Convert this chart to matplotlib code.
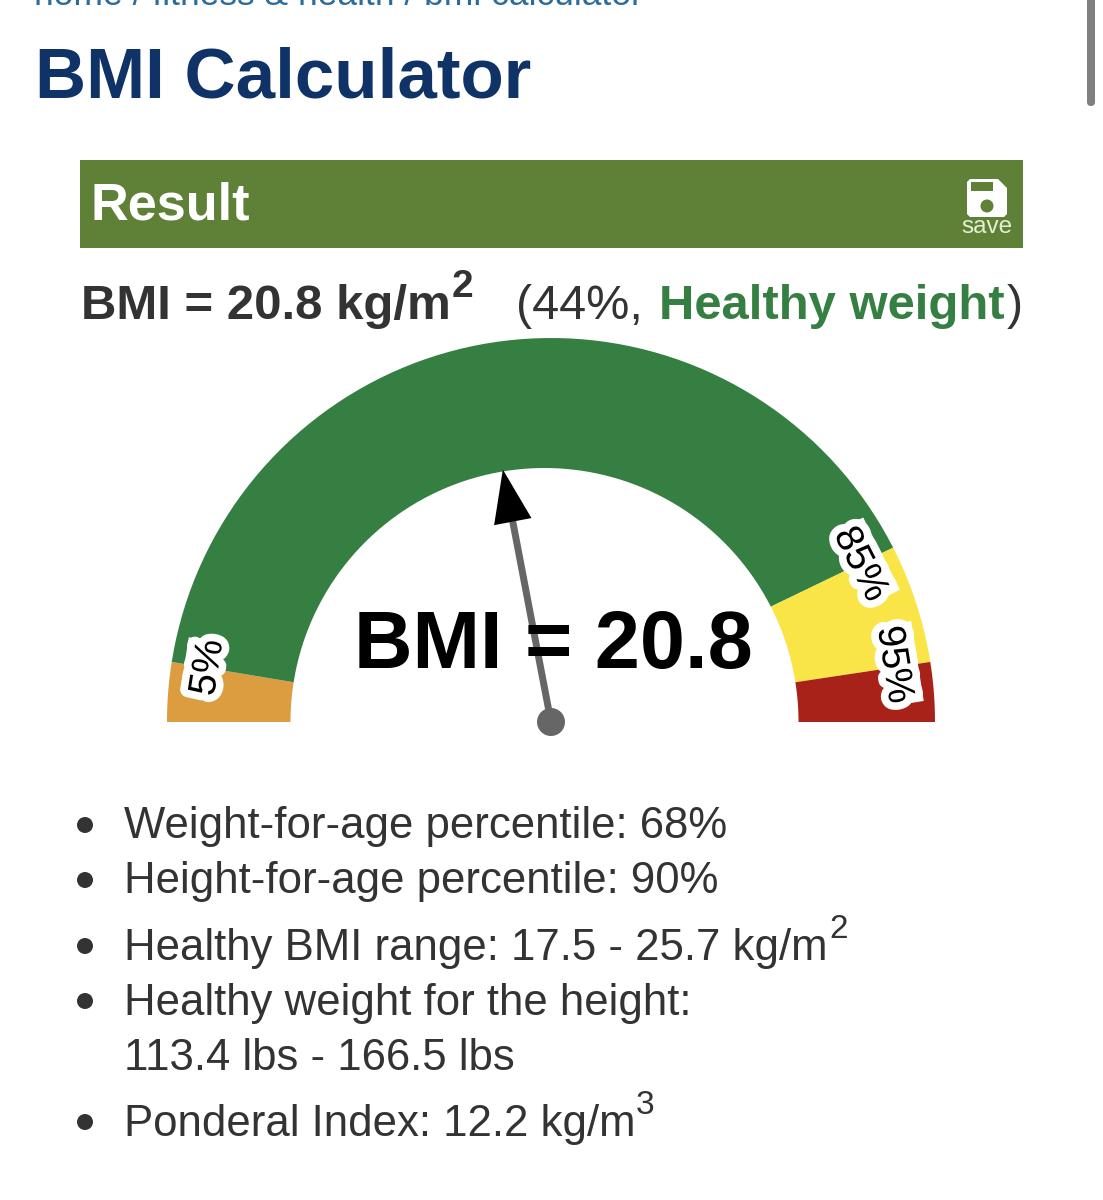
import numpy as np
import matplotlib
matplotlib.use("Agg")
import matplotlib.pyplot as plt
import matplotlib.patheffects as pe
from matplotlib.patches import Polygon, Circle, Rectangle, FancyBboxPatch

plt.rcParams['font.family'] = ['Liberation Sans', 'DejaVu Sans']

# Datos del gauge
band_edges = [0, 5, 85, 95, 100]
band_colors = ['#dc9d41', '#367f43', '#f9e547', '#a9221a']
tick_pcts = [5, 85, 95]
tick_labels = ['5%', '85%', '95%']
bmi_value = 20.8
bmi_pct = 44
status = 'Healthy weight'
details = ['Weight-for-age percentile: 68%',
           'Height-for-age percentile: 90%',
           'Healthy BMI range: 17.5 - 25.7 kg/m',
           'Healthy weight for the height:',
           '113.4 lbs - 166.5 lbs',
           'Ponderal Index: 12.2 kg/m']

TEXT = '#333333'
GREEN = '#367f43'
BANNER = '#5e8137'
NAVY = '#0f3367'

# El arco exterior y el interior no comparten centro
OUT_C, OUT_R = 551.0, 384.0
IN_C, IN_R = 544.5, 254.0
BASE_Y = 722.0
LABEL_R = 347.0


# Convierte percentil a angulo (0% izquierda, 100% derecha)
def pct_angle(pct):
    return np.radians(180.0 - 1.8 * pct)


fig = plt.figure(figsize=(11.03, 12), dpi=100)
ax = fig.add_axes([0, 0, 1, 1])
ax.set_xlim(0, 1103)
ax.set_ylim(1200, 0)
ax.axis('off')


def txt(x, y, s, size, color=TEXT, weight='normal', **kw):
    return ax.text(x, y, s, fontsize=size, color=color, fontweight=weight,
                   va='baseline', ha=kw.pop('ha', 'left'), **kw)


# Cabecera de la pagina
txt(34, 5, 'home / fitness & health / bmi calculator', 25.5, color='#2b6c9e')
txt(35, 97, 'BMI Calculator', 51, color=NAVY, weight='bold')
ax.add_patch(FancyBboxPatch((1087, -10), 8, 116, boxstyle='round,pad=0,rounding_size=4',
                            fc='#808080', ec='none'))

# Banner de resultado
ax.add_patch(Rectangle((80, 160), 943, 88, fc=BANNER, ec='none'))
txt(91, 220, 'Result', 37.6, color='white', weight='bold')
ax.add_patch(Polygon([(970, 179), (998, 179), (1007, 188), (1007, 214), (1004, 217),
                      (970, 217), (967, 214), (967, 182)], closed=True, fc='white', ec='none'))
ax.add_patch(Rectangle((971, 182), 22, 9, fc=BANNER, ec='none'))
ax.add_patch(Circle((987, 206), 6.5, fc=BANNER, ec='none'))
txt(987, 233, 'save', 17.5, color='#e4f0d0', ha='center')

# Linea del resultado
txt(81, 319, 'BMI = %.1f kg/m' % bmi_value, 35.4, weight='bold')
txt(452, 297, '2', 28, weight='bold')
txt(516, 319, '(%d%%,' % bmi_pct, 35)
txt(659, 319, status, 35.3, color=GREEN, weight='bold')
txt(1007, 319, ')', 35)

# Bandas del gauge
for i, col in enumerate(band_colors):
    t = np.linspace(pct_angle(band_edges[i]), pct_angle(band_edges[i + 1]), 80)
    outer = np.column_stack([OUT_C + OUT_R * np.cos(t), BASE_Y - OUT_R * np.sin(t)])
    inner = np.column_stack([IN_C + IN_R * np.cos(t), BASE_Y - IN_R * np.sin(t)])
    ax.add_patch(Polygon(np.vstack([outer, inner[::-1]]), closed=True, fc=col, ec='none'))

# Etiquetas de percentil: halo blanco y una tira blanca sobre las letras
for pct, lab in zip(tick_pcts, tick_labels):
    a = pct_angle(pct)
    x = OUT_C + LABEL_R * np.cos(a)
    y = BASE_Y - LABEL_R * np.sin(a) - (3 if pct == 95 else 0)
    rot = 90 - 1.8 * pct
    u = np.array([np.cos(np.radians(rot)), -np.sin(np.radians(rot))])
    v = np.array([-np.sin(np.radians(rot)), -np.cos(np.radians(rot))])
    half = 13.5 * len(lab)
    c = np.array([x, y])
    ax.add_patch(Polygon([c - u * half, c + u * half, c + u * half + v * 24, c - u * half + v * 24],
                         closed=True, fc='white', ec='none', zorder=4))
    ax.text(x, y, lab, fontsize=28, color='black', ha='center', va='center',
            rotation=rot, rotation_mode='anchor', zorder=5,
            path_effects=[pe.withStroke(linewidth=11, foreground='white')])

# Aguja y texto grande (el texto va por encima de la aguja)
a = pct_angle(bmi_pct)
d = np.array([np.cos(a), -np.sin(a)])
n = np.array([-d[1], d[0]])
piv = np.array([551.0, BASE_Y])
ax.plot([piv[0], piv[0] + d[0] * 210], [piv[1], piv[1] + d[1] * 210],
        color='#666666', lw=5, solid_capstyle='butt', zorder=7)
tip = piv + d * 257
base = piv + d * 204
ax.add_patch(Polygon([tip, base + n * 19, base - n * 19], closed=True, fc='black', ec='none', zorder=8))
ax.add_patch(Circle(piv, 14, fc='#666666', ec='none', zorder=8))
txt(354, 668, 'BMI = %.1f' % bmi_value, 58.4, color='black', weight='bold', zorder=9)

# Lista de detalles
base_ys = [838, 893, 960, 1015, 1070, 1136]
for s, y in zip(details, base_ys):
    txt(124, y, s, 31.5)
for y in [825, 880, 946, 1001, 1122]:
    ax.add_patch(Circle((85, y), 8, fc=TEXT, ec='none'))
txt(829, 938, '2', 24)
txt(636, 1114, '3', 24)

fig.savefig('out.png', dpi=100)
